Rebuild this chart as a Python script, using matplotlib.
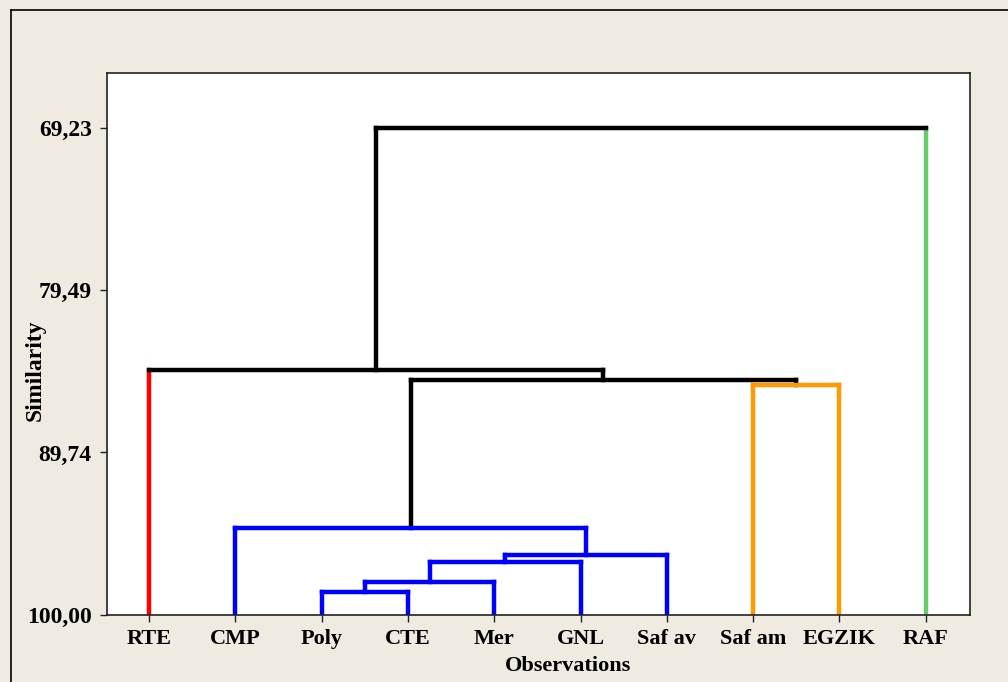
import matplotlib
matplotlib.use('Agg')
import matplotlib.pyplot as plt
from matplotlib.lines import Line2D

# observations (leaf order as drawn)
leaves = ['RTE', 'CMP', 'Poly', 'CTE', 'Mer', 'GNL', 'Saf av', 'Saf am', 'EGZIK', 'RAF']
# colour for singleton clusters, None -> take the colour of the link above
leaf_colors = ['#ff0000', None, None, None, None, None, None, None, None, '#66cc66']

# merges: node a, node b, similarity level, link colour (new node ids start at 10)
merge_a = [2, 10, 11, 12, 1, 7, 14, 0, 17]
merge_b = [3, 4, 5, 6, 13, 8, 15, 16, 9]
merge_sim = [98.53, 97.90, 96.67, 96.22, 94.52, 85.48, 85.16, 84.56, 69.23]
merge_col = ['#0000ff', '#0000ff', '#0000ff', '#0000ff', '#0000ff',
             '#ff9900', 'black', 'black', 'black']

yticks = [69.23, 79.49, 89.74, 100.00]

bg = '#f0ebe1'
fnt = 'Liberation Serif'
fs = 17

fig = plt.figure(figsize=(10.08, 6.82), dpi=100, facecolor=bg)
ax = fig.add_axes([107/1008, 1-615/682, 863/1008, 542/682])
ax.set_facecolor('white')

# outer frame of the graph window
fig.add_artist(Line2D([11/1008, 11/1008], [0, 1-9.5/682], transform=fig.transFigure, color='black', lw=1.2))
fig.add_artist(Line2D([11/1008, 1], [1-9.5/682, 1-9.5/682], transform=fig.transFigure, color='black', lw=1.2))

xpos = {i: float(i) for i in range(len(leaves))}
hgt = {i: 100.0 for i in range(len(leaves))}
lw = 3.2
for k in range(len(merge_a)):
    a, b, s, c = merge_a[k], merge_b[k], merge_sim[k], merge_col[k]
    node = len(leaves) + k
    for ch in (a, b):
        cc = c
        if ch < len(leaves) and leaf_colors[ch] is not None:
            cc = leaf_colors[ch]
        ax.plot([xpos[ch], xpos[ch]], [hgt[ch], s], color=cc, lw=lw, solid_capstyle='projecting')
    ax.plot([xpos[a], xpos[b]], [s, s], color=c, lw=lw, solid_capstyle='projecting', zorder=3)
    xpos[node] = (xpos[a] + xpos[b]) / 2
    hgt[node] = s

ax.set_xlim(-0.487, 9.513)
ax.set_ylim(100.0, 65.78)
ax.set_xticks(range(len(leaves)))
ax.set_xticklabels(leaves)
ax.set_yticks(yticks)
ax.set_yticklabels([('%.2f' % v).replace('.', ',') for v in yticks])

for lab in ax.get_yticklabels():
    lab.set_fontfamily(fnt)
    lab.set_fontweight('bold')
    lab.set_fontsize(fs)
for lab in ax.get_xticklabels():
    lab.set_fontfamily(fnt)
    lab.set_fontweight('bold')
    lab.set_fontsize(16)
ax.tick_params(axis='y', length=5, width=1, pad=6, color='#222222')
ax.tick_params(axis='x', length=5, width=1, pad=5, color='#222222')
for sp in ax.spines.values():
    sp.set_linewidth(1.2)
    sp.set_color('#222222')

fig.text(568/1008, 1-666/682, 'Observations', ha='center', va='center',
         fontfamily=fnt, fontweight='bold', fontsize=16)
fig.text(35/1008, 1-370/682, 'Similarity', ha='center', va='center', rotation=90,
         fontfamily=fnt, fontweight='bold', fontsize=fs)

fig.savefig('out.png', dpi=100, facecolor=bg)
